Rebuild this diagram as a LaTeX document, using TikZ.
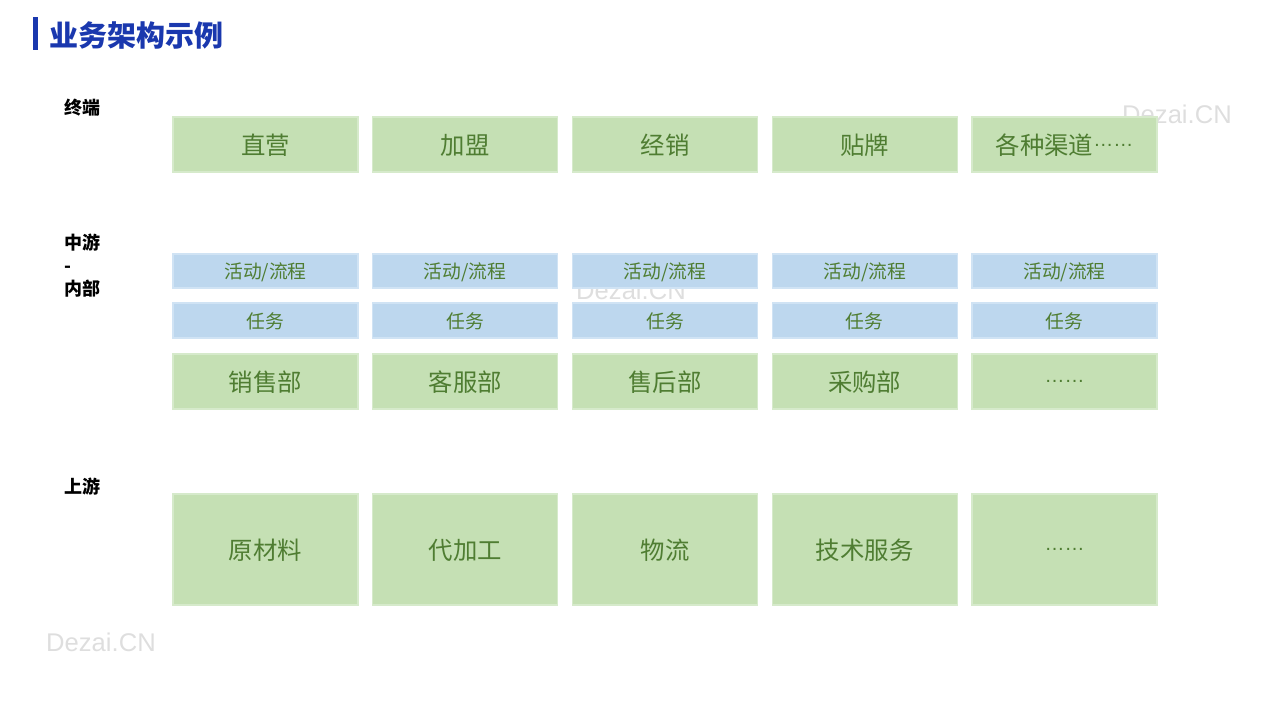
\documentclass[tikz,border=0pt]{standalone}
\usepackage{fontspec}
\setmainfont{Noto Sans CJK SC}
\newfontfamily\markfont{Liberation Sans}
\usetikzlibrary{positioning}
\definecolor{boxgreen}{HTML}{C5E0B4}
\definecolor{boxgreenline}{HTML}{D6EACB}
\definecolor{boxblue}{HTML}{BDD7EE}
\definecolor{boxblueline}{HTML}{D0E3F4}
\definecolor{textgreen}{HTML}{4F7D32}
\definecolor{titleblue}{HTML}{1A38AE}
\definecolor{markgray}{HTML}{DEDEDE}
\newcommand{\plaindots}{{\markfont\fontsize{10pt}{12pt}\selectfont ……}}
\newcommand{\moredots}{\raisebox{0.33em}{\plaindots}}
\tikzset{
    greenbox/.style={rectangle, minimum width=92.5pt, inner sep=0pt, text centered, text depth=0pt, draw=boxgreenline, line width=0.6pt, fill=boxgreen, text=textgreen, font=\fontsize{12.2pt}{14pt}\selectfont},
    bluebox/.style={rectangle, minimum width=92.5pt, inner sep=0pt, text centered, text depth=0pt, draw=boxblueline, line width=0.6pt, fill=boxblue, text=textgreen, font=\fontsize{9.4pt}{11pt}\selectfont},
    layer/.style={anchor=west, align=left, inner sep=0pt, font=\bfseries\fontsize{9pt}{11.5pt}\selectfont},
    watermark/.style={text=markgray, inner sep=0pt, font=\markfont\fontsize{12.8pt}{14pt}\selectfont}
}
\begin{document}
\begin{tikzpicture}[x=0.5pt, y=-0.5pt]
    \useasboundingbox (0,0) rectangle (1280,720);
    % watermarks
    \node (wm1) [watermark] at (1177,114) {Dezai.CN};
    \node (wm2) [watermark] at (631,290) {Dezai.CN};
    \node (wm3) [watermark] at (101,642) {Dezai.CN};
    % title
    \fill [titleblue] (33,17) rectangle (38,50);
    \node (title) [anchor=west, inner sep=0pt, text=titleblue, font=\bfseries\fontsize{14.5pt}{16pt}\selectfont] at (49,35) {业务架构示例};
    % layer labels
    \node (end) [layer] at (64,108) {终端};
    \node (mid) [layer] at (64,266) {中游\\-\\内部};
    \node (up) [layer] at (64,487) {上游};
    % boxes
    \foreach \i/\t/\d/\u in {1/直营/销售部/原材料, 2/加盟/客服部/代加工, 3/经销/售后部/物流, 4/贴牌/采购部/技术服务, 5/各种渠道\moredots/\plaindots/\plaindots} {
        \pgfmathsetmacro{\cx}{265.5+199.75*(\i-1)}
        \node (t\i) [greenbox, minimum height=27.5pt] at (\cx,144.5) {\t};
        \node (a\i) [bluebox, minimum height=17pt] at (\cx,271) {活动/流程};
        \node (k\i) [bluebox, minimum height=17.5pt] at (\cx,320.5) {任务};
        \node (d\i) [greenbox, minimum height=27.5pt] at (\cx,381.5) {\d};
        \node (u\i) [greenbox, minimum height=55.5pt] at (\cx,549.5) {\u};
    }
\end{tikzpicture}
\end{document}
